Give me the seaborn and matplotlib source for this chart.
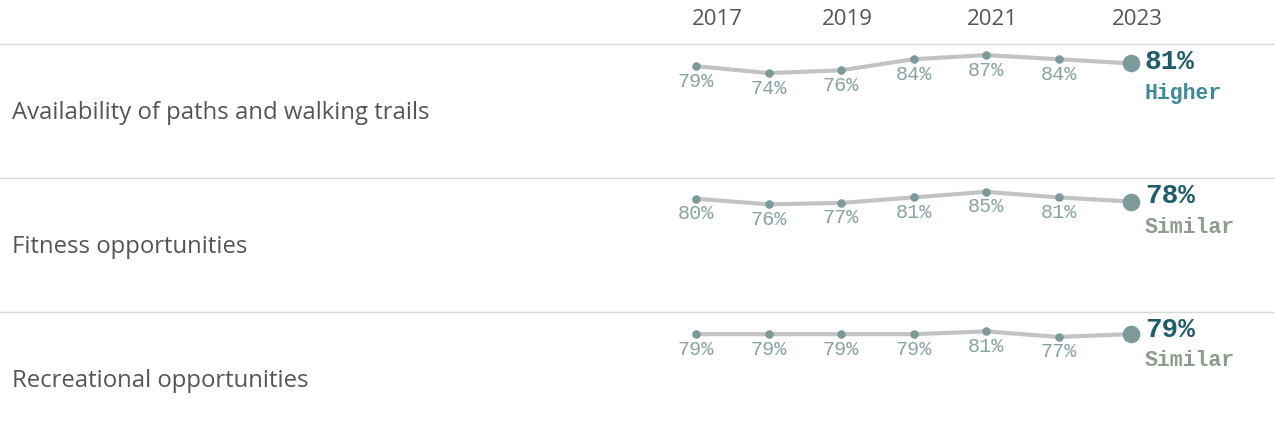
import matplotlib
matplotlib.use("Agg")
import matplotlib.pyplot as plt
import seaborn as sns
import pandas as pd

# ---- data -------------------------------------------------------------
years = [2017, 2018, 2019, 2020, 2021, 2022, 2023]
header_years = [2017, 2019, 2021, 2023]
categories = [
    "Availability of paths and walking trails",
    "Fitness opportunities",
    "Recreational opportunities",
]
paths_trails = [79, 74, 76, 84, 87, 84, 81]
fitness = [80, 76, 77, 81, 85, 81, 78]
recreational = [79, 79, 79, 79, 81, 77, 79]
comparison = ["Higher", "Similar", "Similar"]

series = [paths_trails, fitness, recreational]
rows = []
for cat, vals in zip(categories, series):
    for yr, v in zip(years, vals):
        rows.append({"category": cat, "year": yr, "value": v})
df = pd.DataFrame(rows)

# ---- style ------------------------------------------------------------
sns.set_theme(style="white")
plt.rcParams["font.family"] = ["Open Sans", "DejaVu Sans"]

LINE = "#c3c3c3"
POINT = "#7d9a9b"
VALUE_TXT = "#89a3a3"
LATEST_TXT = "#1f5d6d"
STATUS_COL = {"Higher": "#3f8b9a", "Similar": "#8d9c8d"}
LABEL_TXT = "#555555"
RULE = "#d9d9d9"
MONO = ["Liberation Mono", "DejaVu Sans Mono"]

W, H = 1275, 442
row_tops = [44, 178, 312]
row_h = 134
px_per_year = 72.5
px_per_pct = 1.385
first_x, last_x = 696, 1131

fig = plt.figure(figsize=(W / 100, H / 100), dpi=100)

axes = []
for i, (cat, status) in enumerate(zip(categories, comparison)):
    top = row_tops[i]
    ax = fig.add_axes([0, 1 - (top + row_h) / H, 1, row_h / H])
    axes.append(ax)
    sub = df[df["category"] == cat]
    latest = sub[sub["year"] == years[-1]]
    earlier = sub[sub["year"] < years[-1]]

    sns.lineplot(data=sub, x="year", y="value", ax=ax, color=LINE,
                 linewidth=3, zorder=1)
    sns.scatterplot(data=earlier, x="year", y="value", ax=ax, color=POINT,
                    s=38, linewidth=0, zorder=3)
    sns.scatterplot(data=latest, x="year", y="value", ax=ax, color=POINT,
                    s=160, linewidth=0, zorder=3)

    ax.set_xlim(years[0] - first_x / px_per_year,
                years[-1] + (W - last_x) / px_per_year)
    ax.set_ylim(95 - row_h / px_per_pct, 95)
    ax.set_xlabel("")
    ax.set_ylabel("")
    ax.set_xticks([])
    ax.set_yticks([])
    for side in ("left", "right", "bottom"):
        ax.spines[side].set_visible(False)
    ax.spines["top"].set_color(RULE)
    ax.spines["top"].set_linewidth(1)
    ax.patch.set_alpha(0)

    # value labels under each earlier point
    for yr, v in zip(earlier["year"], earlier["value"]):
        ax.annotate(f"{v}%", xy=(yr, v), xytext=(0, -15),
                    textcoords="offset pixels", ha="center", va="center",
                    fontsize=14.5, color=VALUE_TXT, family=MONO)

    # latest value and comparison
    v_last = int(latest["value"].iloc[0])
    ax.annotate(f"{v_last}%", xy=(years[-1], 1),
                xycoords=("data", "axes fraction"), xytext=(14, -18),
                textcoords="offset pixels", ha="left", va="center",
                fontsize=20, fontweight="bold", color=LATEST_TXT, family=MONO)
    ax.annotate(status, xy=(years[-1], 1),
                xycoords=("data", "axes fraction"), xytext=(14, -49),
                textcoords="offset pixels", ha="left", va="center",
                fontsize=15.5, fontweight="bold", color=STATUS_COL[status],
                family=MONO)

    # category label
    ax.text(12 / W, 1 - 69 / row_h, cat, transform=ax.transAxes,
            ha="left", va="center", fontsize=17.2, color=LABEL_TXT)

# year header above the first row
for j, yr in enumerate(header_years):
    if j == 0:
        axes[0].annotate(str(yr), xy=(yr, 1),
                         xycoords=("data", "axes fraction"), xytext=(-4, 25),
                         textcoords="offset pixels", ha="left", va="center",
                         fontsize=16, color=LABEL_TXT)
    else:
        axes[0].annotate(str(yr), xy=(yr, 1),
                         xycoords=("data", "axes fraction"), xytext=(6, 25),
                         textcoords="offset pixels", ha="center", va="center",
                         fontsize=16, color=LABEL_TXT)

fig.savefig("out.png", dpi=100)
